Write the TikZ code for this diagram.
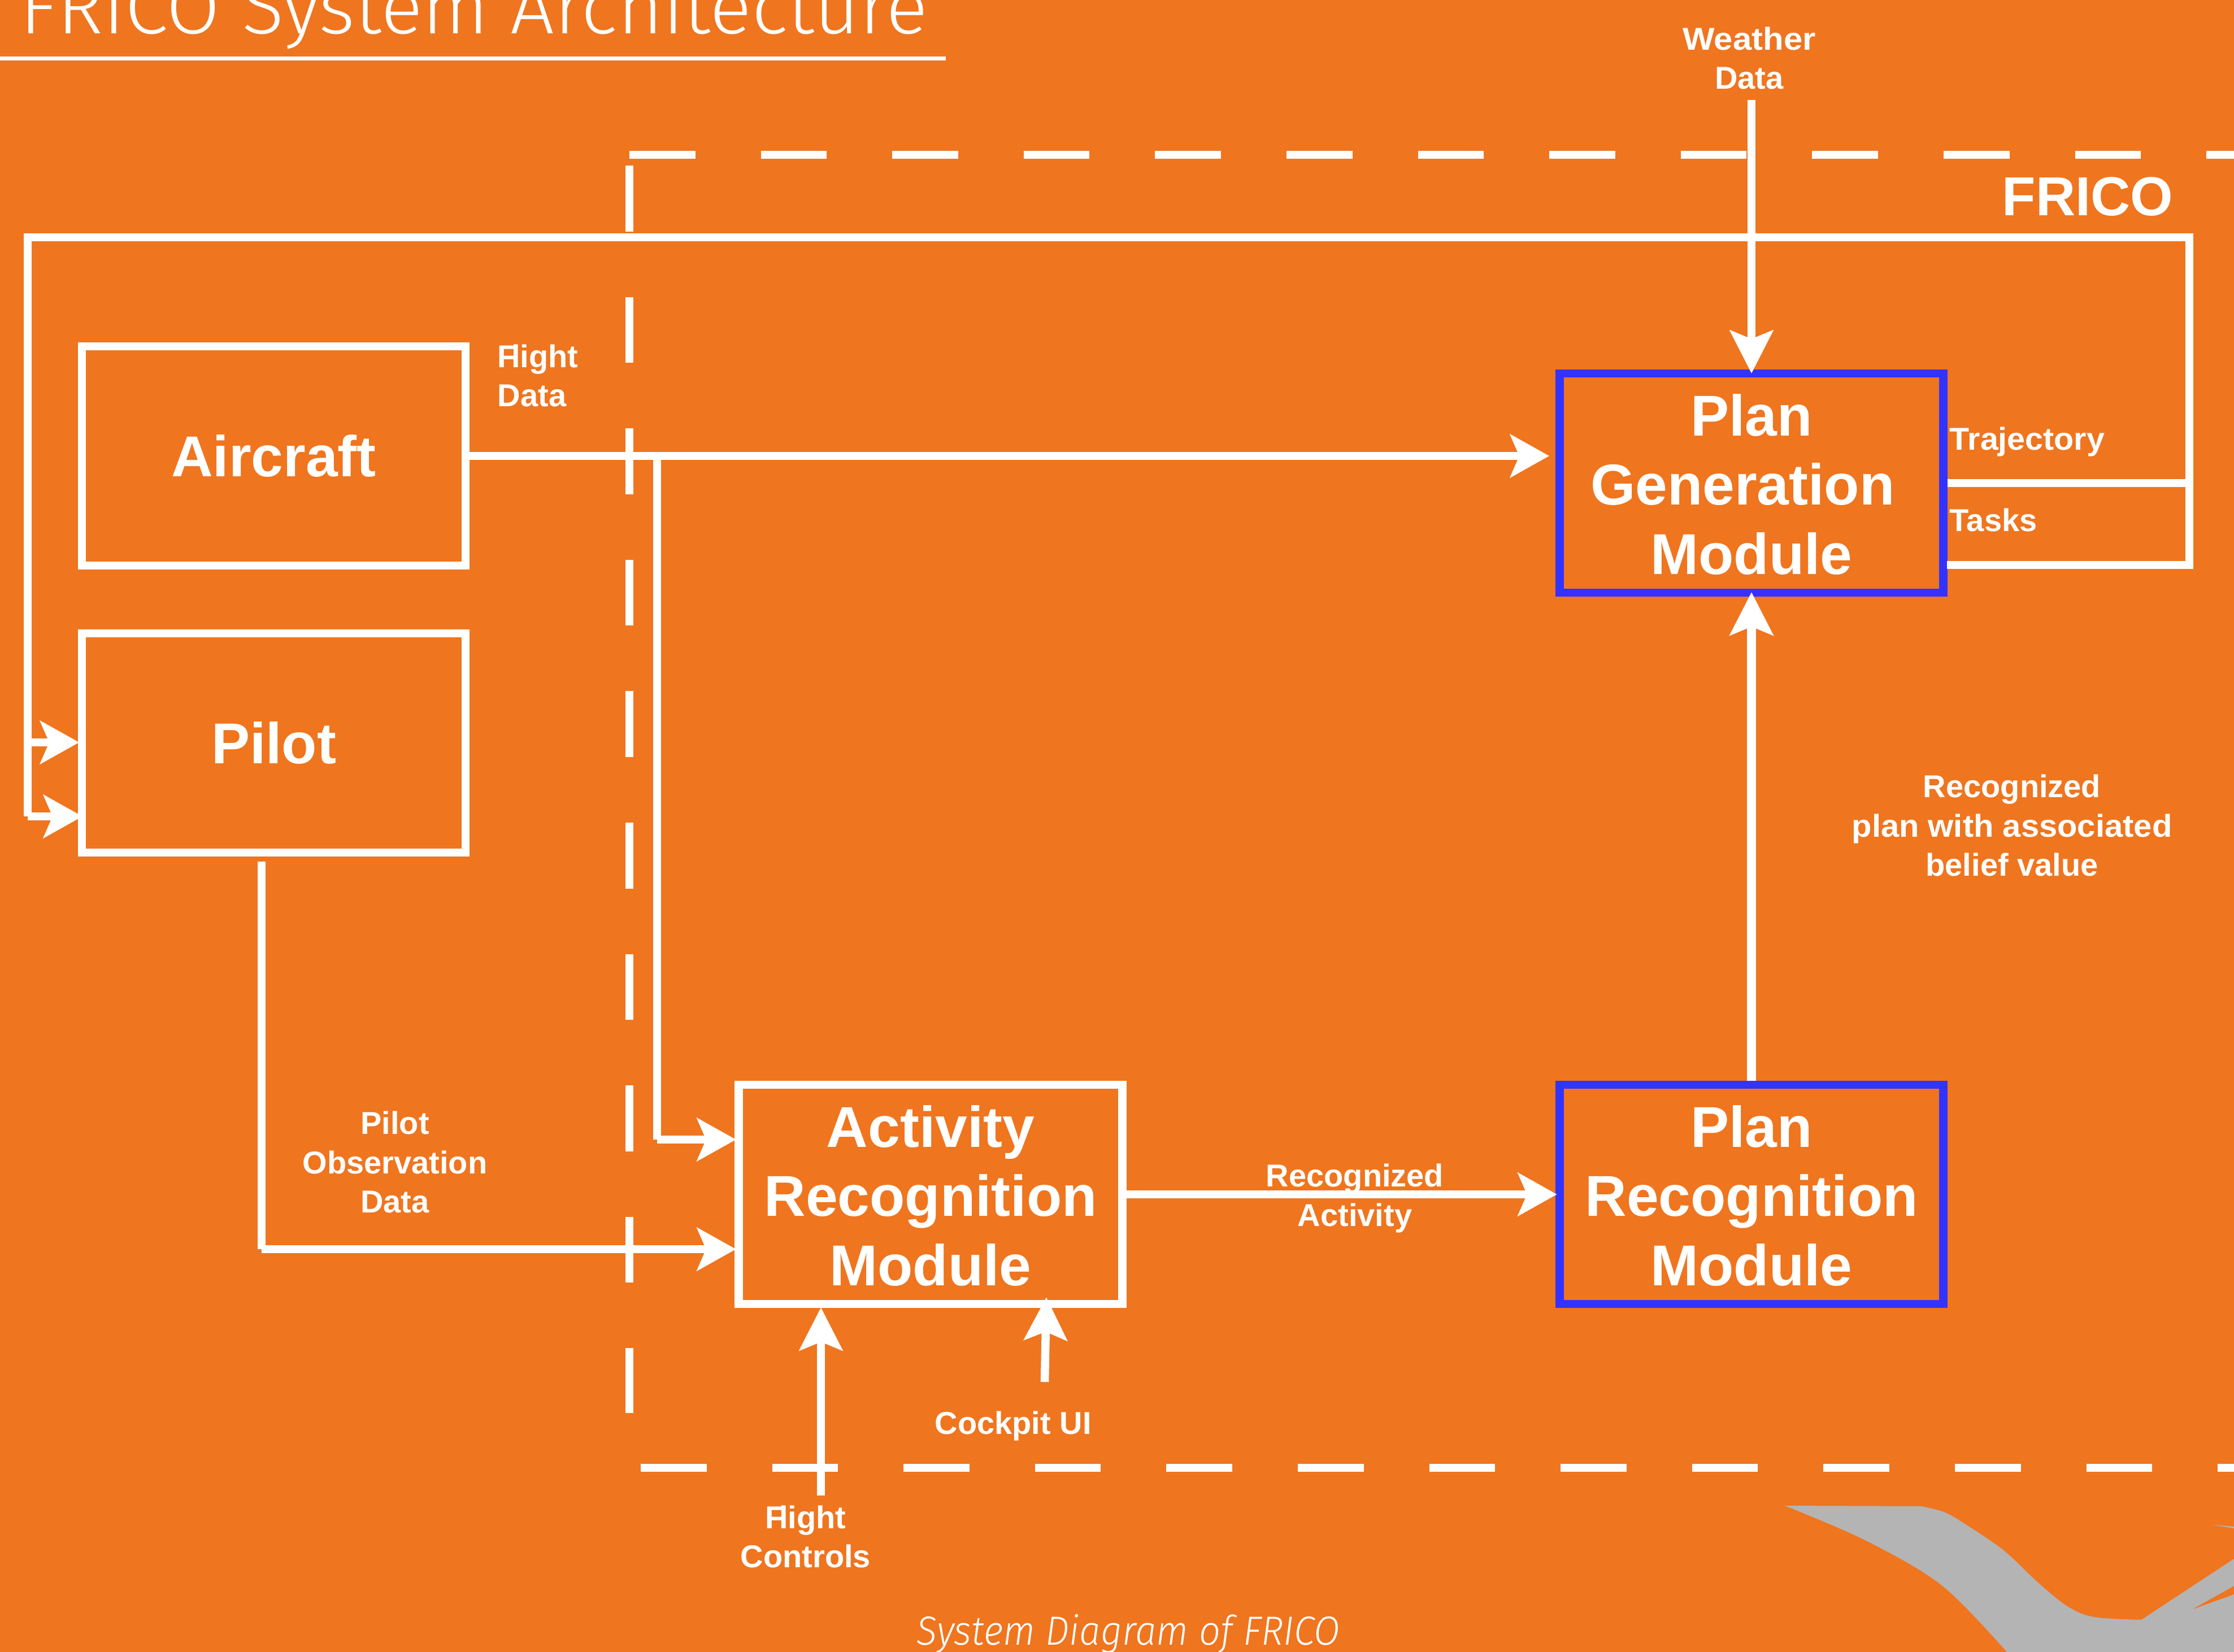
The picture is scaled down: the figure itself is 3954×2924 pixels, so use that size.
\documentclass[tikz,border=0pt]{standalone}
\usepackage{fontspec}
\usetikzlibrary{arrows.meta,calc}
\setmainfont{Liberation Sans}[BoldFont={Liberation Sans Bold}]
\newfontfamily\lightfont{Fira Sans Light}[ItalicFont={Fira Sans Light Italic}]
\definecolor{bgorange}{HTML}{EF751F}
\definecolor{modblue}{HTML}{3333FF}
\definecolor{swoosh}{HTML}{B4B4B4}
\newcommand{\firstline}{\rule{0pt}{19.6pt}}
\tikzset{
  conn/.style={draw=white,line width=3.625pt,line join=miter},
  arr/.style={conn,-{Stealth[length=17.25pt,width=19pt,inset=4pt]}},
  arrbox/.style={arr,shorten >=-0.6pt},
  arrv/.style={conn,-{Stealth[length=19pt,width=19pt,inset=3.75pt]}},
  framedash/.style={draw=white,line width=3.5pt,dash pattern=on 29.15pt off 29pt},
  whitebox/.style={draw=white,line width=3.625pt,inner sep=0pt,align=center,text=white,font=\bfseries\fontsize{25.5pt}{30.6pt}\selectfont},
  bluebox/.style={whitebox,draw=modblue},
  modsize/.style={minimum width=169.75pt,minimum height=97pt},
  lab/.style={inner sep=0pt,align=center,text=white,font=\bfseries\fontsize{14pt}{17.4pt}\selectfont},
}
\begin{document}
\begin{tikzpicture}[x=0.25pt,y=-0.25pt]
\useasboundingbox (0,0) rectangle (3954,2924);
\clip (0,0) rectangle (3954,2924);
\fill[bgorange] (0,0) rectangle (3954,2924);
% swoosh
\fill[swoosh] (3159,2665) -- (3401,2666) -- plot[smooth,tension=.55] coordinates {(3401,2666) (3440,2676) (3471,2693) (3545,2743) (3606,2800) (3659,2843) (3706,2862) (3790,2867)}
  -- (3954,2759) -- (3954,2807) -- (3879,2849) -- (3954,2822) -- (3954,2924) -- (3552,2924)
  -- plot[smooth,tension=.55] coordinates {(3552,2924) (3438,2807) (3303,2727) (3159,2665)} -- cycle;
\fill[swoosh] (3915,2699) -- (3954,2702) -- (3954,2705) -- cycle;
% title
\node[anchor=base east,inner sep=0pt,text=white] (title) at (1643,59) {\lightfont\fontsize{33.75pt}{40pt}\selectfont\scalebox{1.02}[1]{.\hspace{-3pt} FRICO System Architecture}};
\coordinate (ruleL) at (0,103);
\coordinate (ruleR) at (1674,103);
\draw[white,line width=1.75pt] (ruleL) -- (ruleR);
% dashed frame
\coordinate (fTL) at (1114,274);
\coordinate (fTR) at (3954,274);
\coordinate (fLT) at (1114,293);
\coordinate (fLB) at (1114,2501);
\coordinate (fBL) at (1134,2598);
\coordinate (fBR) at (3954,2598);
\draw[framedash] (fTL) -- (fTR);
\draw[framedash] (fLT) -- (fLB);
\draw[framedash] (fBL) -- (fBR);
% boxes
\node[whitebox,modsize] (aircraft) at (484.5,807) {Aircraft};
\node[whitebox,modsize] (pilot) at (484.5,1315) {Pilot};
\node[whitebox,modsize] (arm) at (1647,2114) {\firstline Activity\\Recognition\\Module};
\node[bluebox,modsize] (prm) at (3100,2114) {\firstline Plan\\Recognition\\Module};
\node[bluebox,modsize] (pgm) at (3100,855) {\firstline Plan\\Generation\rule{0.31em}{0pt}\\Module};
% feedback
\coordinate (fbR) at (3875,420);
\coordinate (fbL) at (49,420);
\coordinate (fbLow) at (49,1445);
\coordinate (fbMid) at (49,1314);
\coordinate (pilotLow) at (146,1445);
\coordinate (trajR) at (3875,855);
\coordinate (tasksR) at (3875,1000);
\coordinate (tasksL) at (3446,1000);
\draw[conn] (tasksL) -- (tasksR) -- (fbR) -- (fbL) -- (fbLow);
\draw[arr] (fbLow) -- (pilotLow);
\draw[arrbox] (fbMid) -- (fbMid -| pilot.west);
\draw[conn] (pgm.east) -- (trajR);
% aircraft connections
\coordinate (brTop) at (1163,807);
\coordinate (brLow) at (1163,2017);
\coordinate (pgmIn) at (2742,807);
\draw[arr] (aircraft.east) -- (pgmIn);
\draw[conn] (brTop) -- (brLow);
\draw[arrbox] (brLow) -- (brLow -| arm.west);
% pilot to activity
\coordinate (pdTop) at (463,1525);
\coordinate (pdLow) at (463,2211);
\draw[conn] (pdTop) -- (pdLow);
\draw[arrbox] (pdLow) -- (pdLow -| arm.west);
% activity to plan recognition
\draw[arrbox] (arm.east) -- (prm.west);
% plan recognition to plan generation
\coordinate (pgmB) at (3100,1048);
\draw[arrv,line width=4pt] (prm.north) -- (pgmB);
% weather
\coordinate (wTop) at (3100,177);
\coordinate (pgmT) at (3100,661);
\draw[arrv] (wTop) -- (pgmT);
% flight controls, cockpit
\coordinate (fcB) at (1453,2647);
\coordinate (fcT) at (1453,2314);
\draw[arrv] (fcB) -- (fcT);
\coordinate (cuB) at (1849,2446);
\coordinate (cuT) at (1852,2296);
\draw[arrv] (cuB) -- (cuT);
% labels
\node[lab,align=left,anchor=west] (lflight) at (880,665) {F\kern-2.5pt light\\Data};
\node[lab] (lweather) at (3096,103) {\scalebox{1.07}[1]{Weather}\\Data};
\node[lab,anchor=base west] (ltraj) at (3450,796) {\scalebox{1.025}[1]{Trajectory}};
\node[lab,anchor=base west] (ltasks) at (3450,940) {Tasks};
\node[anchor=base west,inner sep=0pt,text=white,font=\bfseries\fontsize{24.3pt}{28pt}\selectfont] (lfrico) at (3543,381) {FRICO};
\node[lab] (lpilot) at (699,2057) {Pilot\\Observation\\Data};
\node[lab] (lactivity) at (2398,2121) {Recognized\\Activity};
\node[lab] (lplan) at (3561,1461) {Recognized\\\scalebox{1.035}[1]{plan with associated}\\belief value};
\node[lab,anchor=base west] (lcockpit) at (1654,2538) {Cockpit UI};
\node[lab] (lcontrols) at (1426,2720) {F\kern-2.5pt light\\Controls};
\node[anchor=base west,inner sep=0pt,text=white] (caption) at (1622,2911) {\lightfont\itshape\fontsize{18pt}{22pt}\selectfont\scalebox{0.93}[1]{System Diagram of FRICO}};
\end{tikzpicture}
\end{document}
